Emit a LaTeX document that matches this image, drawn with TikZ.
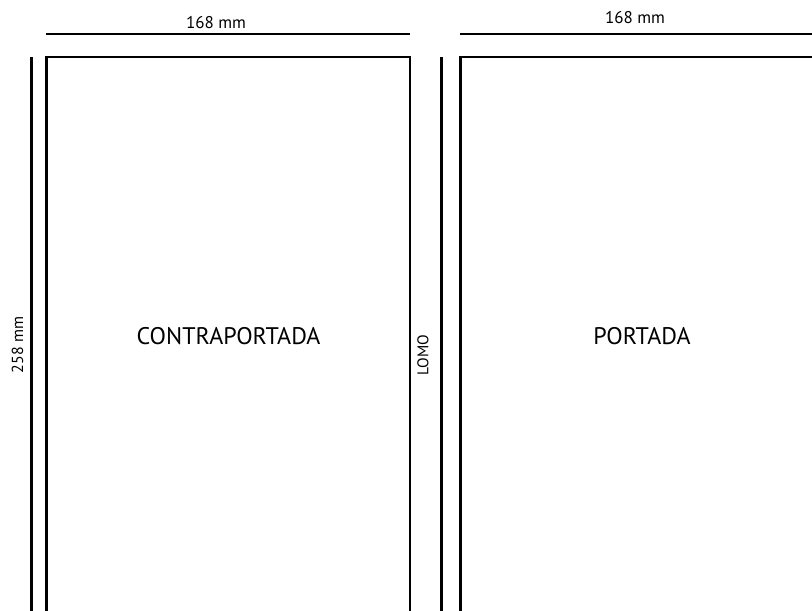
\documentclass[tikz,border=0pt]{standalone}
\usepackage{fontspec}
\setmainfont{PT Sans}
\begin{document}
\begin{tikzpicture}[x=1pt,y=-1pt,
  edge/.style={line width=2.1pt,black},
  dimtext/.style={inner sep=0pt,font=\fontsize{17}{18}\selectfont},
  bigtext/.style={inner sep=0pt,font=\fontsize{24}{26}\selectfont}]
\useasboundingbox (0,0) rectangle (812,611);
% page outlines
\draw[edge] (46.5,625) -- (46.5,57.3) -- (410,57.3) -- (410,625);
\draw[edge] (460.5,625) -- (460.5,57.3) -- (830,57.3);
% dimension lines
\draw[edge] (46,34) -- (410,34);
\draw[edge] (460,34) -- (830,34);
\draw[edge] (31.5,57) -- (31.5,625);
\draw[edge] (441.5,57) -- (441.5,625);
% labels
\node[dimtext] (w1) at (216,23) {168 mm};
\node[dimtext] (w2) at (635,18) {168 mm};
\node[dimtext,rotate=90,font=\fontsize{16}{17}\selectfont] (h) at (17.5,345) {258 mm};
\node[dimtext,rotate=90,font=\fontsize{15.5}{16}\selectfont] (lomo) at (423,355) {LOMO};
\node[bigtext] (back) at (228.5,336) {CONTRAPORTADA};
\node[bigtext] (front) at (642,336) {PORTADA};
\end{tikzpicture}
\end{document}
